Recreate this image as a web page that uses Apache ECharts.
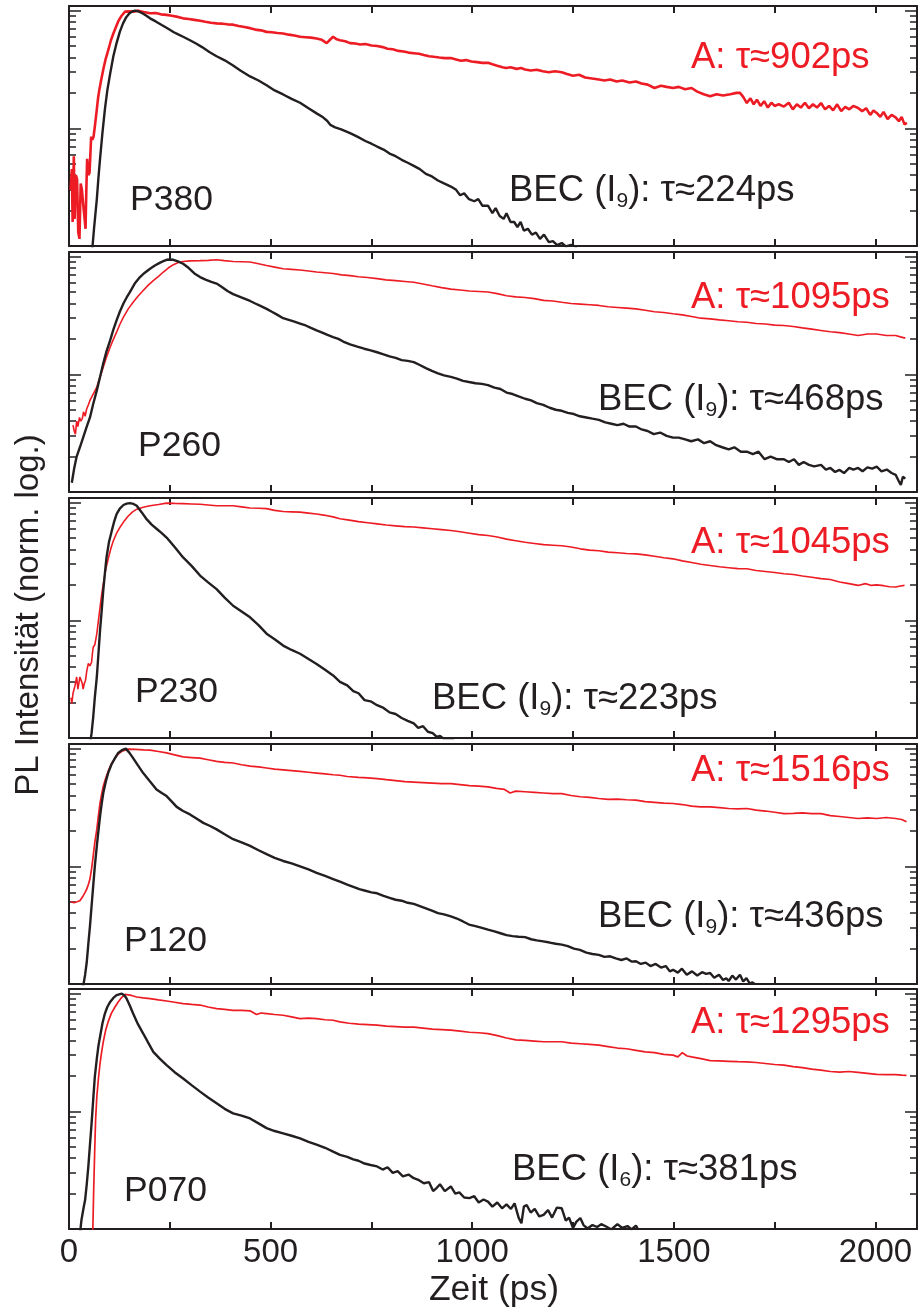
<!DOCTYPE html>
<html><head><meta charset="utf-8">
<script src="https://cdn.jsdelivr.net/npm/echarts@6/dist/echarts.min.js"></script>
<style>html,body{margin:0;padding:0;background:#fff;} #chart{width:921px;height:1315px;}</style>
</head><body><div id="chart"></div>
<script>
// ---------------- DATA ----------------
const panelNames = ['P380', 'P260', 'P230', 'P120', 'P070'];
const tauA = [902, 1095, 1045, 1516, 1295];
const tauBEC = [224, 468, 223, 436, 381];
const becLine = ['9', '9', '9', '9', '6'];
const xTickValues = [0, 250, 500, 750, 1000, 1250, 1500, 1750, 2000];
const xTickLabels = [0, 500, 1000, 1500, 2000];
const yMajorTicks = [0.01, 0.1, 1];
const yMinorTicks = [0.02, 0.03, 0.04, 0.05, 0.06, 0.07, 0.08, 0.09, 0.2, 0.3, 0.4, 0.5, 0.6, 0.7, 0.8, 0.9];
const xTitle = 'Zeit (ps)';
const yTitle = 'PL Intensität (norm. log.)';

const redP380 = [[4,0.030],[7,0.045],[9,0.016],[12,0.058],[14,0.017],[17,0.040],[20,0.037],[23,0.013],[26,0.0115],[29,0.034],[32,0.030],[35,0.023],[38,0.018],[41,0.014],[43,0.030],[45,0.055],[48,0.040],[51,0.042],[53,0.060],[55,0.085],[58,0.080],[61,0.085],[65,0.11],[69,0.145],[72,0.18],[75,0.21],[80,0.26],[85,0.316],[91,0.39],[98,0.47],[104,0.56],[110,0.64],[116,0.72],[122,0.81],[130,0.90],[139,0.98],[150,0.985],[160,0.98],[172,1.0],[185,0.975],[201,0.95],[215,0.955],[228,0.93],[242,0.92],[255,0.905],[270,0.885],[283,0.86],[297,0.85],[311,0.835],[325,0.82],[338,0.805],[352,0.79],[366,0.78],[380,0.775],[393,0.765],[407,0.76],[421,0.74],[435,0.725],[449,0.71],[462,0.69],[476,0.68],[490,0.66],[503,0.655],[517,0.645],[531,0.64],[545,0.625],[559,0.615],[573,0.60],[587,0.595],[600,0.59],[614,0.58],[627,0.565],[639,0.53],[646,0.56],[655,0.60],[664,0.57],[672,0.56],[685,0.55],[697,0.53],[710,0.525],[722,0.515],[735,0.52],[750,0.505],[764,0.50],[778,0.49],[790,0.475],[803,0.47],[817,0.455],[830,0.45],[842,0.44],[855,0.435],[868,0.43],[880,0.42],[893,0.41],[905,0.405],[918,0.40],[932,0.395],[947,0.395],[960,0.385],[972,0.375],[985,0.38],[998,0.37],[1012,0.365],[1025,0.36],[1039,0.36],[1050,0.35],[1062,0.34],[1075,0.33],[1084,0.325],[1095,0.33],[1110,0.32],[1121,0.325],[1131,0.316],[1145,0.31],[1160,0.315],[1175,0.305],[1190,0.30],[1205,0.305],[1222,0.30],[1235,0.29],[1250,0.28],[1265,0.285],[1280,0.27],[1297,0.265],[1314,0.26],[1328,0.255],[1342,0.26],[1358,0.25],[1372,0.255],[1390,0.245],[1406,0.25],[1420,0.24],[1435,0.235],[1452,0.22],[1468,0.23],[1482,0.225],[1498,0.22],[1512,0.225],[1528,0.215],[1544,0.22],[1558,0.205],[1574,0.195],[1590,0.187],[1606,0.195],[1622,0.19],[1640,0.195],[1655,0.2],[1664,0.2],[1672,0.185],[1681,0.164],[1690,0.18],[1698,0.16],[1706,0.175],[1715,0.155],[1724,0.17],[1733,0.15],[1742,0.165],[1750,0.155],[1760,0.16],[1773,0.153],[1785,0.165],[1795,0.145],[1805,0.16],[1815,0.15],[1825,0.165],[1835,0.148],[1845,0.16],[1855,0.15],[1865,0.164],[1875,0.145],[1885,0.155],[1895,0.142],[1905,0.16],[1915,0.14],[1925,0.152],[1935,0.145],[1945,0.155],[1957,0.149],[1967,0.14],[1977,0.148],[1987,0.13],[1995,0.142],[2003,0.135],[2012,0.125],[2020,0.138],[2030,0.12],[2040,0.13],[2050,0.124],[2058,0.115],[2065,0.125],[2072,0.108],[2078,0.111]];
const blackP380 = [[56,0.008],[62,0.014],[69,0.025],[73,0.038],[77,0.055],[83,0.092],[89,0.145],[95,0.21],[102,0.29],[110,0.41],[118,0.53],[126,0.66],[134,0.78],[142,0.88],[150,0.95],[157,0.985],[164,1.0],[172,0.985],[182,0.95],[192,0.905],[201,0.86],[215,0.81],[230,0.755],[245,0.705],[260,0.655],[272,0.625],[283,0.60],[300,0.56],[315,0.525],[330,0.49],[348,0.445],[366,0.41],[385,0.38],[405,0.345],[425,0.31],[449,0.276],[470,0.255],[490,0.232],[510,0.21],[531,0.194],[552,0.178],[573,0.165],[594,0.148],[614,0.134],[630,0.124],[640,0.116],[648,0.107],[660,0.102],[675,0.098],[697,0.091],[715,0.085],[735,0.078],[750,0.074],[764,0.070],[780,0.066],[795,0.061],[810,0.058],[825,0.054],[840,0.051],[855,0.048],[870,0.045],[885,0.041],[900,0.039],[915,0.036],[930,0.034],[947,0.032],[960,0.030],[970,0.027],[980,0.028],[992,0.025],[1005,0.024],[1015,0.025],[1025,0.022],[1039,0.022],[1050,0.019],[1058,0.021],[1068,0.018],[1078,0.017],[1085,0.019],[1095,0.016],[1104,0.016],[1112,0.0145],[1120,0.016],[1128,0.0135],[1138,0.014],[1148,0.0125],[1158,0.013],[1168,0.0115],[1178,0.0125],[1190,0.0108],[1200,0.011],[1210,0.0102],[1222,0.0106],[1232,0.0099],[1245,0.0102],[1260,0.0098]];

const redP260 = [[10,0.037],[13,0.033],[16,0.031],[19,0.040],[22,0.036],[26,0.043],[29,0.040],[33,0.042],[36,0.048],[40,0.044],[44,0.051],[48,0.055],[52,0.060],[60,0.068],[69,0.078],[77,0.095],[85,0.115],[93,0.14],[102,0.17],[110,0.198],[118,0.228],[126,0.265],[135,0.306],[147,0.36],[159,0.41],[171,0.46],[184,0.515],[196,0.57],[209,0.626],[222,0.68],[234,0.74],[246,0.80],[259,0.855],[271,0.89],[283,0.91],[300,0.92],[325,0.925],[345,0.93],[366,0.94],[385,0.925],[407,0.91],[428,0.905],[449,0.90],[470,0.87],[490,0.84],[510,0.815],[531,0.79],[552,0.78],[573,0.77],[594,0.755],[614,0.74],[635,0.73],[655,0.72],[676,0.70],[697,0.69],[718,0.675],[740,0.665],[764,0.65],[786,0.635],[810,0.625],[833,0.615],[855,0.606],[878,0.585],[900,0.565],[924,0.545],[947,0.53],[970,0.52],[993,0.51],[1016,0.505],[1039,0.50],[1062,0.485],[1085,0.465],[1108,0.455],[1131,0.45],[1154,0.44],[1177,0.425],[1200,0.42],[1222,0.41],[1245,0.40],[1268,0.395],[1291,0.39],[1314,0.385],[1337,0.375],[1360,0.37],[1383,0.365],[1406,0.36],[1429,0.35],[1452,0.34],[1475,0.335],[1498,0.327],[1521,0.32],[1544,0.31],[1567,0.30],[1590,0.296],[1613,0.29],[1636,0.285],[1659,0.28],[1681,0.277],[1704,0.27],[1727,0.268],[1750,0.262],[1773,0.26],[1796,0.255],[1819,0.248],[1842,0.242],[1865,0.236],[1888,0.23],[1911,0.226],[1934,0.22],[1957,0.214],[1980,0.22],[2003,0.22],[2027,0.214],[2050,0.214],[2062,0.208],[2074,0.203]];
const blackP260 = [[7,0.012],[13,0.016],[19,0.020],[27,0.024],[35,0.029],[44,0.036],[52,0.043],[60,0.056],[69,0.073],[77,0.095],[85,0.124],[93,0.157],[102,0.194],[110,0.24],[118,0.287],[126,0.34],[135,0.40],[143,0.45],[151,0.50],[163,0.59],[176,0.67],[188,0.73],[201,0.79],[213,0.84],[226,0.89],[234,0.915],[242,0.94],[250,0.945],[259,0.94],[270,0.91],[283,0.87],[297,0.80],[311,0.72],[325,0.67],[340,0.635],[353,0.61],[366,0.59],[380,0.55],[393,0.51],[407,0.48],[421,0.46],[435,0.44],[449,0.42],[462,0.40],[476,0.38],[490,0.36],[503,0.34],[517,0.32],[531,0.30],[545,0.29],[559,0.28],[573,0.27],[587,0.26],[600,0.248],[614,0.236],[628,0.226],[641,0.216],[655,0.207],[668,0.20],[680,0.19],[697,0.18],[715,0.172],[732,0.165],[748,0.16],[764,0.154],[780,0.148],[795,0.142],[810,0.138],[825,0.132],[840,0.13],[855,0.127],[870,0.12],[885,0.113],[900,0.107],[915,0.102],[930,0.098],[947,0.095],[962,0.092],[977,0.088],[992,0.086],[1008,0.084],[1024,0.083],[1039,0.081],[1055,0.077],[1070,0.075],[1085,0.07],[1100,0.068],[1115,0.065],[1131,0.062],[1146,0.06],[1160,0.057],[1176,0.055],[1192,0.052],[1207,0.05],[1222,0.049],[1237,0.047],[1252,0.046],[1267,0.044],[1283,0.043],[1298,0.042],[1314,0.041],[1330,0.039],[1345,0.038],[1360,0.037],[1375,0.038],[1390,0.036],[1406,0.036],[1420,0.034],[1435,0.033],[1450,0.031],[1466,0.032],[1482,0.030],[1498,0.029],[1512,0.029],[1528,0.028],[1543,0.027],[1560,0.028],[1575,0.026],[1590,0.027],[1605,0.025],[1620,0.024],[1636,0.023],[1650,0.024],[1666,0.022],[1681,0.022],[1696,0.021],[1710,0.022],[1725,0.019],[1740,0.020],[1755,0.019],[1773,0.019],[1785,0.018],[1798,0.019],[1810,0.017],[1822,0.018],[1835,0.017],[1848,0.0165],[1865,0.017],[1877,0.0155],[1888,0.016],[1900,0.0148],[1911,0.0154],[1922,0.0145],[1935,0.016],[1945,0.0155],[1957,0.016],[1968,0.015],[1980,0.0162],[1992,0.0158],[2003,0.0164],[2015,0.015],[2028,0.0155],[2040,0.0145],[2050,0.014],[2057,0.0125],[2063,0.0115],[2068,0.0135],[2074,0.013]];

const redP230 = [[5,0.022],[7,0.0197],[10,0.024],[12,0.024],[15,0.028],[19,0.033],[22,0.026],[25,0.030],[27,0.033],[30,0.033],[33,0.029],[35,0.026],[38,0.029],[41,0.031],[44,0.037],[48,0.043],[52,0.041],[56,0.044],[58,0.052],[60,0.059],[64,0.062],[69,0.077],[73,0.10],[77,0.129],[81,0.165],[85,0.203],[91,0.27],[98,0.342],[104,0.41],[110,0.474],[118,0.55],[126,0.614],[136,0.69],[147,0.77],[157,0.83],[168,0.88],[184,0.915],[201,0.94],[222,0.965],[242,0.99],[262,0.985],[283,0.98],[304,0.975],[325,0.97],[345,0.955],[366,0.94],[386,0.94],[407,0.94],[428,0.92],[449,0.90],[470,0.895],[490,0.89],[510,0.86],[531,0.84],[552,0.835],[573,0.83],[594,0.815],[614,0.80],[635,0.78],[655,0.757],[672,0.73],[695,0.71],[718,0.69],[741,0.675],[764,0.66],[787,0.645],[810,0.635],[833,0.625],[855,0.62],[878,0.61],[901,0.60],[924,0.59],[947,0.58],[970,0.565],[993,0.55],[1016,0.535],[1039,0.525],[1062,0.51],[1085,0.49],[1108,0.475],[1131,0.46],[1154,0.45],[1177,0.44],[1200,0.435],[1222,0.43],[1245,0.42],[1268,0.405],[1291,0.395],[1314,0.39],[1337,0.38],[1360,0.375],[1383,0.37],[1406,0.367],[1429,0.36],[1452,0.35],[1475,0.34],[1498,0.333],[1521,0.32],[1544,0.31],[1567,0.30],[1590,0.292],[1613,0.285],[1636,0.28],[1659,0.275],[1681,0.274],[1704,0.265],[1727,0.26],[1750,0.255],[1773,0.249],[1796,0.245],[1819,0.238],[1842,0.232],[1865,0.226],[1888,0.222],[1911,0.212],[1934,0.205],[1957,0.198],[1975,0.205],[1990,0.198],[2003,0.20],[2020,0.197],[2035,0.193],[2050,0.192],[2062,0.196],[2072,0.198]];
const blackP230 = [[50,0.008],[56,0.011],[60,0.015],[64,0.022],[69,0.033],[73,0.052],[77,0.082],[81,0.12],[85,0.18],[89,0.25],[93,0.342],[99,0.46],[106,0.575],[112,0.69],[118,0.80],[126,0.89],[135,0.955],[143,0.98],[151,0.99],[160,0.975],[168,0.94],[180,0.83],[193,0.72],[205,0.65],[217,0.60],[230,0.55],[242,0.505],[262,0.42],[283,0.342],[304,0.29],[325,0.24],[345,0.21],[366,0.184],[386,0.156],[407,0.133],[428,0.119],[449,0.106],[470,0.091],[490,0.077],[510,0.069],[531,0.061],[552,0.056],[573,0.052],[594,0.047],[614,0.0426],[635,0.038],[655,0.034],[672,0.030],[690,0.028],[705,0.025],[718,0.024],[733,0.021],[748,0.0205],[764,0.019],[780,0.018],[795,0.0165],[810,0.016],[825,0.0148],[840,0.014],[855,0.0133],[866,0.0122],[878,0.0126],[890,0.0113],[902,0.011],[912,0.0102],[920,0.0104],[930,0.0098],[945,0.0099],[955,0.0097]];

const redP120 = [[5,0.050],[12,0.049],[20,0.050],[27,0.051],[31,0.053],[35,0.056],[40,0.060],[44,0.064],[48,0.070],[52,0.078],[56,0.095],[60,0.122],[64,0.16],[69,0.206],[73,0.27],[77,0.346],[81,0.41],[85,0.48],[91,0.56],[97,0.64],[105,0.74],[114,0.83],[122,0.90],[131,0.95],[147,0.99],[165,0.985],[185,0.975],[201,0.97],[222,0.945],[242,0.92],[262,0.885],[283,0.85],[304,0.84],[325,0.83],[345,0.805],[366,0.78],[386,0.765],[407,0.755],[428,0.73],[449,0.71],[470,0.70],[490,0.685],[510,0.67],[531,0.66],[552,0.65],[573,0.64],[594,0.63],[614,0.62],[635,0.61],[655,0.60],[672,0.594],[690,0.58],[718,0.57],[741,0.565],[764,0.557],[787,0.545],[810,0.535],[833,0.525],[855,0.52],[878,0.515],[901,0.51],[924,0.505],[947,0.505],[970,0.495],[993,0.485],[1016,0.48],[1039,0.473],[1060,0.46],[1080,0.45],[1094,0.42],[1108,0.435],[1131,0.43],[1154,0.425],[1177,0.42],[1200,0.415],[1222,0.415],[1245,0.40],[1268,0.39],[1291,0.385],[1314,0.377],[1337,0.37],[1360,0.372],[1383,0.368],[1406,0.365],[1429,0.355],[1452,0.35],[1475,0.345],[1498,0.342],[1521,0.335],[1544,0.325],[1567,0.32],[1590,0.32],[1613,0.315],[1636,0.31],[1659,0.308],[1681,0.31],[1704,0.30],[1727,0.295],[1750,0.288],[1773,0.28],[1796,0.282],[1819,0.285],[1842,0.28],[1865,0.28],[1888,0.27],[1911,0.265],[1934,0.26],[1957,0.255],[1980,0.258],[2003,0.255],[2027,0.26],[2050,0.255],[2065,0.25],[2077,0.239]];
const blackP120 = [[35,0.0095],[40,0.012],[44,0.0153],[48,0.022],[52,0.031],[56,0.046],[60,0.068],[64,0.10],[69,0.149],[73,0.20],[77,0.267],[81,0.34],[85,0.42],[91,0.52],[97,0.62],[105,0.73],[114,0.83],[122,0.92],[131,0.97],[141,1.0],[150,0.92],[159,0.83],[171,0.72],[184,0.62],[200,0.53],[217,0.45],[230,0.42],[242,0.395],[255,0.355],[267,0.32],[283,0.295],[300,0.276],[316,0.255],[333,0.234],[350,0.22],[366,0.206],[386,0.187],[407,0.17],[428,0.16],[449,0.149],[470,0.137],[490,0.127],[510,0.118],[531,0.111],[552,0.106],[573,0.10],[594,0.094],[614,0.088],[635,0.083],[655,0.078],[672,0.074],[690,0.070],[705,0.067],[720,0.064],[735,0.062],[750,0.060],[764,0.059],[780,0.056],[795,0.054],[810,0.052],[825,0.051],[840,0.049],[855,0.048],[870,0.046],[885,0.044],[900,0.042],[915,0.040],[930,0.039],[947,0.0375],[962,0.036],[977,0.034],[992,0.032],[1008,0.031],[1024,0.030],[1039,0.029],[1055,0.028],[1070,0.027],[1085,0.026],[1100,0.0255],[1115,0.0252],[1131,0.025],[1146,0.024],[1160,0.0235],[1176,0.023],[1192,0.0225],[1207,0.022],[1222,0.0216],[1237,0.021],[1252,0.020],[1267,0.0195],[1283,0.0185],[1298,0.018],[1314,0.0177],[1328,0.017],[1342,0.0172],[1356,0.0165],[1370,0.016],[1383,0.0165],[1395,0.0155],[1406,0.0156],[1418,0.0148],[1430,0.0152],[1442,0.0142],[1455,0.0148],[1468,0.0138],[1480,0.0142],[1490,0.0128],[1498,0.0132],[1510,0.0125],[1520,0.0135],[1532,0.012],[1545,0.0128],[1558,0.0118],[1570,0.0126],[1580,0.0122],[1590,0.0124],[1600,0.0113],[1612,0.012],[1622,0.0108],[1630,0.0112],[1636,0.0106],[1645,0.0118],[1654,0.0109],[1664,0.012],[1672,0.0105],[1680,0.0112],[1688,0.0101],[1695,0.0103],[1702,0.0099]];

const redP070 = [[57,0.005],[59,0.0095],[61,0.02],[64,0.05],[66,0.085],[69,0.133],[73,0.19],[77,0.255],[81,0.32],[85,0.39],[91,0.49],[97,0.575],[105,0.68],[114,0.77],[122,0.85],[131,0.93],[139,0.985],[143,1.0],[155,0.965],[168,0.936],[184,0.92],[201,0.907],[222,0.885],[242,0.866],[262,0.845],[283,0.823],[304,0.81],[325,0.80],[345,0.77],[366,0.746],[386,0.735],[407,0.72],[428,0.72],[449,0.715],[465,0.665],[476,0.685],[490,0.677],[510,0.665],[531,0.655],[552,0.635],[573,0.614],[594,0.62],[614,0.614],[635,0.60],[655,0.594],[672,0.575],[695,0.56],[718,0.55],[741,0.545],[764,0.54],[787,0.53],[810,0.525],[833,0.52],[855,0.52],[878,0.51],[901,0.50],[924,0.495],[947,0.49],[970,0.48],[993,0.47],[1016,0.465],[1039,0.458],[1062,0.44],[1085,0.42],[1108,0.405],[1131,0.40],[1154,0.395],[1177,0.39],[1200,0.39],[1222,0.39],[1245,0.38],[1268,0.375],[1291,0.37],[1314,0.365],[1337,0.355],[1360,0.345],[1383,0.34],[1406,0.33],[1429,0.32],[1452,0.315],[1475,0.305],[1498,0.30],[1510,0.29],[1521,0.315],[1533,0.295],[1544,0.29],[1567,0.28],[1590,0.27],[1613,0.268],[1636,0.266],[1659,0.264],[1681,0.263],[1704,0.26],[1727,0.255],[1750,0.25],[1773,0.247],[1796,0.24],[1819,0.235],[1842,0.228],[1865,0.224],[1888,0.218],[1911,0.215],[1934,0.218],[1957,0.214],[1980,0.21],[2003,0.206],[2027,0.205],[2050,0.205],[2065,0.203],[2077,0.202]];
const blackP070 = [[27,0.009],[31,0.012],[36,0.015],[40,0.0177],[44,0.024],[48,0.034],[52,0.052],[56,0.079],[60,0.125],[64,0.196],[69,0.28],[73,0.36],[77,0.43],[83,0.56],[89,0.677],[95,0.77],[102,0.85],[110,0.92],[118,0.97],[131,1.0],[138,0.96],[143,0.907],[151,0.79],[159,0.677],[171,0.55],[184,0.458],[196,0.385],[209,0.32],[225,0.28],[242,0.247],[262,0.215],[283,0.19],[304,0.167],[325,0.147],[345,0.131],[366,0.117],[386,0.105],[407,0.096],[428,0.092],[449,0.087],[470,0.079],[490,0.072],[510,0.068],[531,0.065],[552,0.062],[573,0.059],[594,0.055],[614,0.052],[635,0.049],[655,0.0455],[672,0.0426],[690,0.041],[705,0.039],[718,0.038],[733,0.036],[748,0.035],[764,0.034],[778,0.032],[790,0.0335],[803,0.030],[815,0.031],[828,0.028],[842,0.029],[855,0.027],[868,0.026],[880,0.0245],[893,0.025],[903,0.021],[910,0.022],[920,0.024],[932,0.021],[947,0.023],[958,0.020],[968,0.0205],[980,0.0185],[993,0.0183],[1005,0.019],[1016,0.0168],[1028,0.0178],[1039,0.0171],[1050,0.0155],[1062,0.0168],[1074,0.015],[1085,0.0162],[1096,0.0148],[1105,0.0165],[1115,0.0125],[1122,0.0112],[1128,0.0155],[1135,0.016],[1145,0.0138],[1155,0.0148],[1166,0.0128],[1177,0.0132],[1188,0.0145],[1198,0.0125],[1210,0.0152],[1222,0.015],[1232,0.0118],[1240,0.0125],[1250,0.0102],[1258,0.0115],[1268,0.0124],[1276,0.0108],[1286,0.0101],[1298,0.0108],[1310,0.0104],[1320,0.0110],[1332,0.0105],[1345,0.0099],[1360,0.011],[1372,0.0102],[1385,0.0106],[1395,0.0099],[1406,0.0107],[1412,0.0098]];

const redSeries = [redP380, redP260, redP230, redP120, redP070];
const blackSeries = [blackP380, blackP260, blackP230, blackP120, blackP070];

// ---------------- LAYOUT / STYLE ----------------
const FONT = "'Liberation Sans', Arial, Helvetica, sans-serif";
const INK = '#231f20';
const RED = '#ed1c24';
const X_MIN = 0, X_MAX = 2103;
const Y_MIN = 0.01, Y_MAX = 1.095;
const gridTops = [6, 252, 498, 744, 989];
const GRID_LEFT = 69, GRID_W = 848, GRID_H = 240;
const redWidths = [2.6, 1.6, 1.6, 1.7, 1.7];
const labelPX = [130, 138, 135, 124, 124];
const labelPY = [200, 446, 692, 941, 1191];
const labelAX = 691;
const labelAY = [58, 298, 543, 771, 1023];
const labelBX = [509, 598, 432, 598, 512];
const labelBY = [191, 400, 699, 917, 1170];
const TXT_P = 35.5;
const TXT = 36.5;

const chart = echarts.init(document.getElementById('chart'), null, { renderer: 'canvas' });
const lg = Math.log10;
const grids = [], xAxes = [], yAxes = [], series = [], graphics = [];

for (let g = 0; g < 5; g++) {
  grids.push({ left: GRID_LEFT, top: gridTops[g], width: GRID_W, height: GRID_H, containLabel: false });
  const isLast = g === 4;
  xAxes.push({
    type: 'value', gridIndex: g, position: 'bottom', min: X_MIN, max: X_MAX,
    axisLine: { show: true, onZero: false, lineStyle: { color: INK, width: 2 } },
    axisTick: { show: true, inside: true, length: 7, customValues: xTickValues, lineStyle: { color: INK, width: 2 } },
    axisLabel: { show: isLast, customValues: xTickLabels, formatter: v => String(v), margin: 7, color: INK, fontSize: 33, fontFamily: FONT },
    splitLine: { show: false }
  });
  xAxes.push({
    type: 'value', gridIndex: g, position: 'top', min: X_MIN, max: X_MAX,
    axisLine: { show: true, onZero: false, lineStyle: { color: INK, width: 2 } },
    axisTick: { show: true, inside: true, length: 7, customValues: xTickValues, lineStyle: { color: INK, width: 2 } },
    axisLabel: { show: false }, splitLine: { show: false }
  });
  yAxes.push({
    type: 'log', logBase: 10, gridIndex: g, position: 'left', min: Y_MIN, max: Y_MAX,
    axisLine: { show: true, onZero: false, lineStyle: { color: INK, width: 2 } },
    axisTick: { show: false }, axisLabel: { show: false }, splitLine: { show: false }, minorTick: { show: false }
  });
  const tickAxis = (pos, vals, len, showLine) => ({
    type: 'value', gridIndex: g, position: pos, min: lg(Y_MIN), max: lg(Y_MAX),
    axisLine: { show: showLine, onZero: false, lineStyle: { color: INK, width: 2 } },
    axisTick: { show: true, inside: true, length: len, customValues: vals.map(lg), lineStyle: { color: INK, width: 1.5 } },
    axisLabel: { show: false }, splitLine: { show: false }
  });
  yAxes.push(tickAxis('left', yMajorTicks, 12, false));
  yAxes.push(tickAxis('left', yMinorTicks, 7, false));
  yAxes.push(tickAxis('right', yMajorTicks, 12, true));
  yAxes.push(tickAxis('right', yMinorTicks, 7, false));

  series.push({
    type: 'line', xAxisIndex: 2 * g, yAxisIndex: 5 * g, data: redSeries[g], showSymbol: false, symbol: 'none',
    clip: true, silent: true, lineStyle: { color: RED, width: redWidths[g] }, z: 2
  });
  series.push({
    type: 'line', xAxisIndex: 2 * g, yAxisIndex: 5 * g, data: blackSeries[g], showSymbol: false, symbol: 'none',
    clip: true, silent: true, lineStyle: { color: INK, width: 2.4 }, z: 3
  });

  const base = { fontFamily: FONT, verticalAlign: 'middle', textVerticalAlign: 'middle', align: 'left', textAlign: 'left' };
  graphics.push({ type: 'text', silent: true, z: 10, style: Object.assign({}, base, { fontSize: TXT_P, x: labelPX[g], y: labelPY[g], text: panelNames[g], fill: INK }) });
  graphics.push({ type: 'text', silent: true, z: 10, style: Object.assign({}, base, { fontSize: TXT, x: labelAX, y: labelAY[g], text: 'A: τ≈' + tauA[g] + 'ps', fill: RED }) });
  graphics.push({ type: 'text', silent: true, z: 10, style: Object.assign({}, base, {
    fontSize: TXT, x: labelBX[g], y: labelBY[g], fill: INK, lineHeight: 42,
    text: 'BEC (I{s|' + becLine[g] + '}): τ≈' + tauBEC[g] + 'ps',
    rich: { s: { fontSize: 21, fontFamily: FONT, fill: INK, color: INK, verticalAlign: 'bottom', lineHeight: 23 } }
  }) });
}

graphics.push({ type: 'text', silent: true, style: { x: 494, y: 1290, text: xTitle, fill: INK, fontSize: 35.5, fontFamily: FONT, align: 'center', textAlign: 'center', verticalAlign: 'middle', textVerticalAlign: 'middle' } });
graphics.push({ type: 'text', silent: true, x: 29, y: 615, rotation: Math.PI / 2, style: { x: 0, y: 0, text: yTitle, fill: INK, fontSize: 33, fontFamily: FONT, align: 'center', textAlign: 'center', verticalAlign: 'middle', textVerticalAlign: 'middle' } });

chart.setOption({
  animation: false,
  backgroundColor: '#ffffff',
  grid: grids, xAxis: xAxes, yAxis: yAxes, series: series,
  graphic: { elements: graphics }
});
</script></body></html>
